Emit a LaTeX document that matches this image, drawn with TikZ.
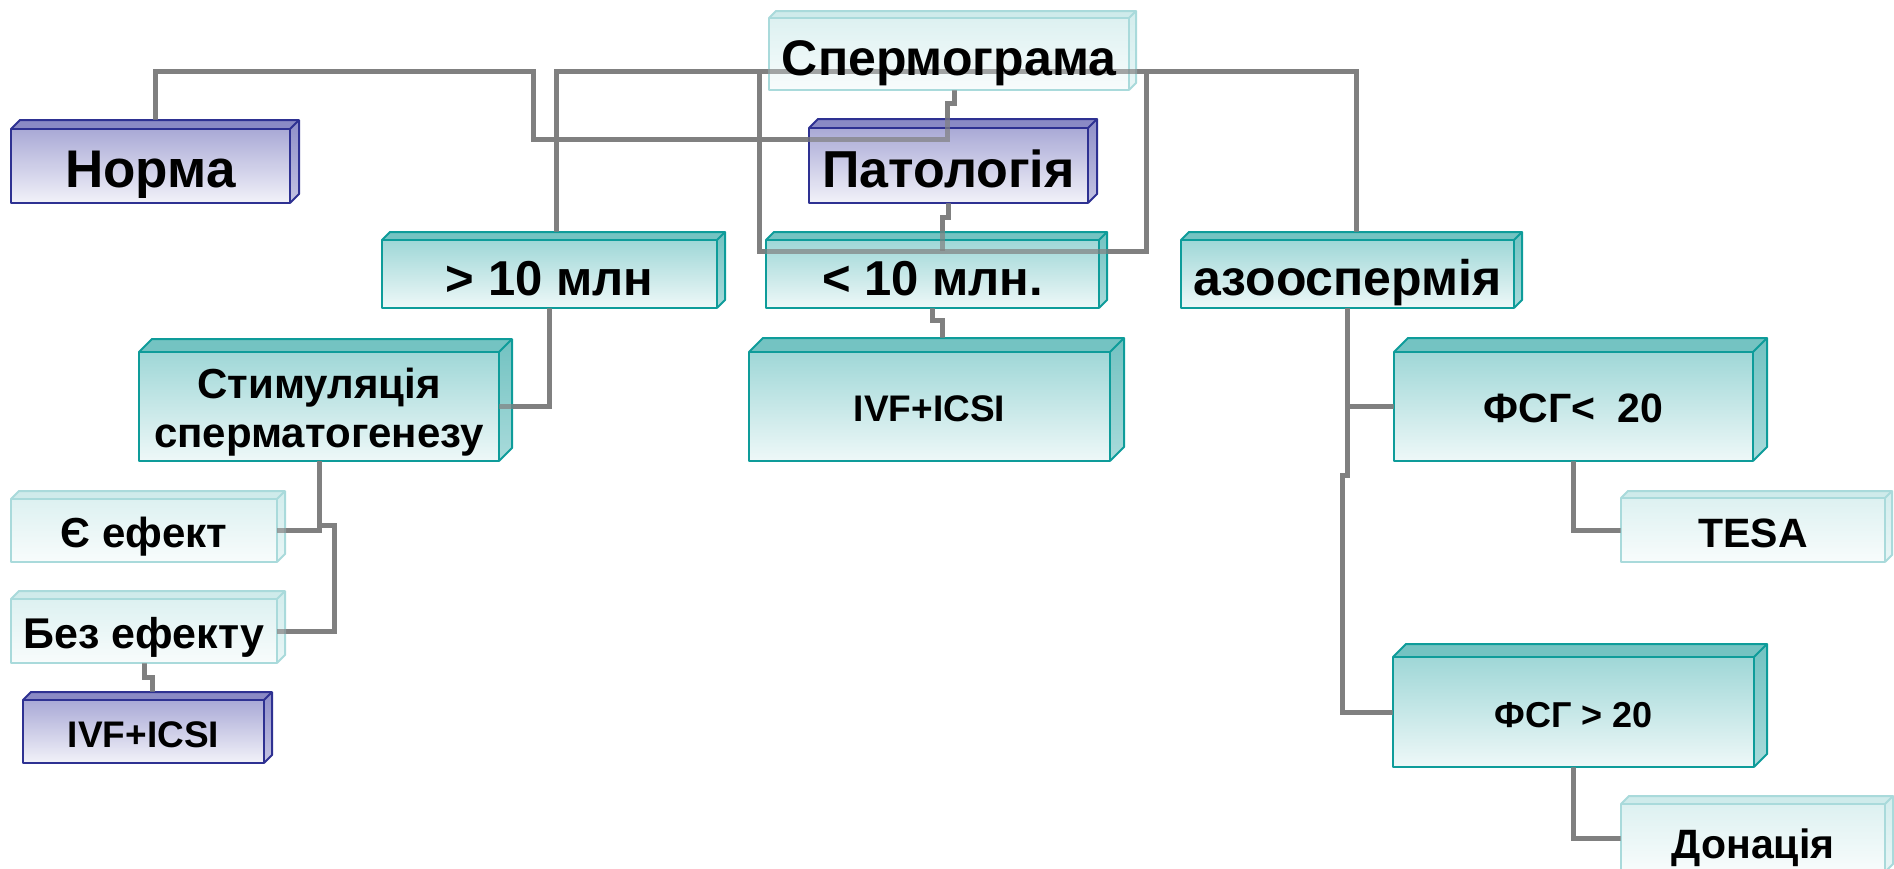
\documentclass[tikz,border=0pt]{standalone}
\usepackage{fontspec}
\setmainfont{Liberation Sans}
\usetikzlibrary{fit,calc}
\pgfdeclarelayer{wires}
\pgfsetlayers{wires,main}

% face colours of the three kinds of slabs
\definecolor{tealEdge}{HTML}{0E9C9A}
\definecolor{tealHi}{HTML}{9FD7D7}
\definecolor{tealLo}{HTML}{EEF8F8}
\definecolor{tealTop}{HTML}{74C3C2}
\definecolor{tealSideHi}{HTML}{72C2C1}
\definecolor{tealSideLo}{HTML}{A9DBDB}
\definecolor{paleEdge}{HTML}{A9DADB}
\definecolor{paleHi}{HTML}{DDF1F1}
\definecolor{paleLo}{HTML}{F8FCFC}
\definecolor{paleTop}{HTML}{CFEBEB}
\definecolor{paleSideHi}{HTML}{D3EDED}
\definecolor{paleSideLo}{HTML}{E8F6F6}
\definecolor{blueEdge}{HTML}{2E3192}
\definecolor{blueHi}{HTML}{A9A9D6}
\definecolor{blueLo}{HTML}{F2F2F9}
\definecolor{blueTop}{HTML}{8A8AC5}
\definecolor{blueSideHi}{HTML}{8E8EC8}
\definecolor{blueSideLo}{HTML}{C4C4E3}
\definecolor{wireGray}{HTML}{808080}

% \slab{name}{kind}{x1}{y1}{x2}{y2}{depth}: a 3D slab whose front face is a named node
\newcommand\slab[7]{%
  \node[inner sep=0pt, outer sep=0pt, fit={(#3,#4) (#5,#6)}] (#1) {};
  \coordinate (#1-top) at ($(#1.north)+(#7/2,-#7)$);
  \fill[#2Top] (#1.north west) -- ++(#7,-#7) -- ([shift={(#7,-#7)}]#1.north east)
     -- (#1.north east) -- cycle;
  \shade[top color=#2SideHi, bottom color=#2SideLo] (#1.north east)
     -- ([shift={(#7,-#7)}]#1.north east) -- ([shift={(#7,-#7)}]#1.south east)
     -- (#1.south east) -- cycle;
  \shade[top color=#2Hi, bottom color=#2Lo] (#1.north west) rectangle (#1.south east);
  \draw[edge, #2Edge] (#1.north west) -- ++(#7,-#7) -- ([shift={(#7,-#7)}]#1.north east)
     -- ([shift={(#7,-#7)}]#1.south east) -- (#1.south east);
  \draw[edge, #2Edge] (#1.north east) -- ++(#7,-#7);
  \draw[edge, #2Edge] (#1.north west) rectangle (#1.south east);
}

% all connectors, drawn with the style given as argument
\newcommand\wiring[1]{%
  \draw[#1] ([xshift=5pt]sperm.south) -- ++(0,13) -- ++(-7,0) |- (kA)
     -- (kA |- rail) -| (norma-top);
  \draw[#1] ([xshift=3pt]gtten-top) -- ([xshift=3pt]gtten-top |- rail)
     -- ([xshift=5pt]azo-top |- rail) -- ([xshift=5pt]azo-top);
  \draw[#1] (loopL |- rail) -- (loopL) -- (loopR) -- (loopR |- rail);
  \draw[#1] (patol.south) -- ++(0,14) -- ++(-6,0) coordinate (j1) -- (j1 |- loopL);
  \draw[#1] (ltten.south) -- ++(0,12) -- ++(10,0) coordinate (j2) -- (j2 |- ivf1-top);
  \draw[#1] (gtten.south) |- (stim.east);
  \draw[#1] (stim.south) |- (yes.east);
  \draw[#1] (stim.south) -- ++(0,64) -- ++(15,0) |- (no.east);
  \draw[#1] (no.south) -- ++(0,14) -- ++(8,0) coordinate (j3) -- (j3 |- ivf2-top);
  \draw[#1] (azo.south) |- (fsh1.west);
  \draw[#1] (azo.south) -- ++(0,167) -- ++(-5,0) |- (fsh2.west);
  \draw[#1] (fsh1.south) |- (tesa.west);
  \draw[#1] (fsh2.south) |- (don.west);
}

\begin{document}
\begin{tikzpicture}[x=1pt, y=-1pt,
  edge/.style={line width=2pt, line join=round},
  wire/.style={wireGray, line width=5pt, line join=miter},
  lbl/.style={anchor=base, inner sep=0pt, text=black},
  fs/.style={font=\fontsize{#1}{#1}\selectfont\bfseries}]

\useasboundingbox (0,0) rectangle (1894,868);
\clip (0,0) rectangle (1894,868);

% slabs
\slab{sperm}{pale}{769}{18}{1129}{90}{7}
\slab{norma}{blue}{11}{129}{290}{203}{9}
\slab{patol}{blue}{809}{128}{1088}{203}{9}
\slab{gtten}{teal}{382}{240}{717}{308}{8}
\slab{ltten}{teal}{766}{240}{1099}{308}{8}
\slab{azo}{teal}{1181}{240}{1514}{308}{8}
\slab{stim}{teal}{139}{352}{499}{461}{13}
\slab{ivf1}{teal}{749}{352}{1110}{461}{14}
\slab{fsh1}{teal}{1394}{352}{1753}{461}{14}
\slab{yes}{pale}{11}{499}{277}{562}{8}
\slab{no}{pale}{11}{599}{277}{663}{8}
\slab{ivf2}{blue}{23}{700}{264}{763}{8}
\slab{tesa}{pale}{1621}{498}{1885}{562}{7}
\slab{fsh2}{teal}{1393}{657}{1754}{767}{13}
\slab{don}{pale}{1621}{804}{1885}{872}{8}

% bend points of the connectors
\coordinate (rail) at (0,71);
\coordinate (kA) at (533,139);
\coordinate (loopL) at (759,251);
\coordinate (loopR) at (1146,251);

% connectors: solid beneath the slabs, fainter where they cross them
\begin{pgfonlayer}{wires}
  \wiring{wire}
\end{pgfonlayer}
\wiring{wire, draw opacity=0.7}

% labels
\node[lbl, fs=50] (sperm-t) at ($(sperm.south)+(0,-15)$) {Спермограма};
\node[lbl, fs=53] (norma-t) at ($(norma.south)+(0,-16)$) {Норма};
\node[lbl, fs=52] (patol-t) at ($(patol.south)+(0,-16)$) {Патологія};
\node[lbl, fs=49] (gtten-t) at ($(gtten.south)+(0,-13)$) {> 10 млн};
\node[lbl, fs=49] (ltten-t) at ($(ltten.south)+(0,-13)$) {< 10 млн.};
\node[lbl, fs=50] (azo-t) at ($(azo.south)+(0,-13)$) {азооспермія};
\node[lbl, fs=42] (stim-t1) at ($(stim.south)+(0,-63)$) {Стимуляція};
\node[lbl, fs=42] (stim-t2) at ($(stim.south)+(0,-14)$) {сперматогенезу};
\node[lbl, fs=37] (ivf1-t) at ($(ivf1.south)+(0,-40)$) {IVF+ICSI};
\node[lbl, fs=41] (fsh1-t) at ($(fsh1.south)+(0,-39)$) {ФСГ<\ \ 20};
\node[lbl, fs=42] (yes-t) at ($(yes.south)+(0,-15)$) {Є ефект};
\node[lbl, fs=43] (no-t) at ($(no.south)+(0,-15)$) {Без ефекту};
\node[lbl, fs=37] (ivf2-t) at ($(ivf2.south)+(0,-16)$) {IVF+ICSI};
\node[lbl, fs=41] (tesa-t) at ($(tesa.south)+(0,-15)$) {TESA};
\node[lbl, fs=36] (fsh2-t) at ($(fsh2.south)+(0,-40)$) {ФСГ > 20};
\node[lbl, fs=41] (don-t) at ($(don.north)+(0,54)$) {Донація};
\end{tikzpicture}
\end{document}
